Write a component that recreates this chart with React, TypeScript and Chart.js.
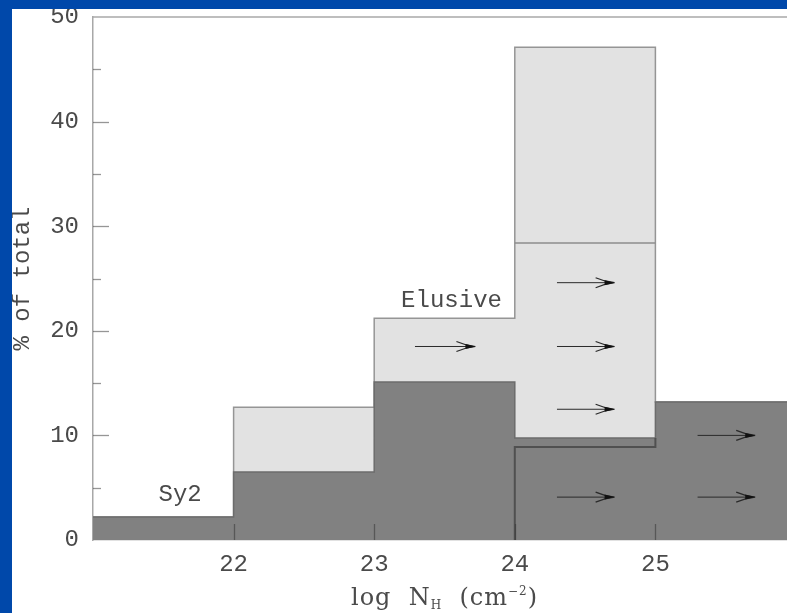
import React, { useEffect, useRef } from "react";
import { Chart, registerables } from "chart.js";

Chart.register(...registerables);

// ---- data ----
const binEdges = [21, 22, 23, 24, 25, 26];
const sy2Pct = [2.2, 6.5, 15.1, 9.75, 13.2]; // dark histogram (Sy2)
const totalPct = [2.2, 12.7, 21.2, 47.1, 13.2]; // top of light histogram (Sy2 + Elusive)
const limitBin = [24, 25];
const sy2LimitPct = 8.9; // inner outlined box in 24-25 bin
const elusiveLimitPct = 28.4; // inner line in 24-25 bin of Elusive
const xTickValues = [22, 23, 24, 25];
const yMinorTicks = [5, 15, 25, 35, 45];
const arrowXStart = [23.29, 24.3, 24.3, 24.3, 24.3, 25.3, 25.3];
const arrowXEnd = [23.72, 24.71, 24.71, 24.71, 24.71, 25.71, 25.71];
const arrowY = [18.5, 24.6, 18.5, 12.5, 4.1, 10.0, 4.1];
const textLabels = ["Sy2", "Elusive"];
const textLabelX = [21.62, 23.55];
const textLabelY = [4.3, 22.9];

const MONO = '"Liberation Mono", monospace';
const SERIF = '"DejaVu Serif", serif';
const TEXT = "#4a4a4a";

function stepPoints(vals: number[]) {
  return binEdges.map((x, i) => ({ x, y: vals[Math.min(i, vals.length - 1)] }));
}

const overlay = {
  id: "overlay",
  afterDatasetsDraw(chart: any) {
    const { ctx, chartArea, scales } = chart;
    const x = scales.x;
    const y = scales.y;
    ctx.save();
    // top frame
    ctx.strokeStyle = "#a8a8a8";
    ctx.lineWidth = 1.5;
    ctx.beginPath();
    ctx.moveTo(chartArea.left, chartArea.top);
    ctx.lineTo(chartArea.right, chartArea.top);
    ctx.stroke();

    // inward ticks
    ctx.strokeStyle = "rgba(45,45,45,0.5)";
    ctx.lineWidth = 1.3;
    y.ticks.forEach((t: any) => {
      if (t.value <= y.min || t.value >= y.max) return;
      const py = Math.round(y.getPixelForValue(t.value)) + 0.5;
      ctx.beginPath();
      ctx.moveTo(chartArea.left, py);
      ctx.lineTo(chartArea.left + 16, py);
      ctx.stroke();
    });
    yMinorTicks.forEach((v) => {
      const py = Math.round(y.getPixelForValue(v)) + 0.5;
      ctx.beginPath();
      ctx.moveTo(chartArea.left, py);
      ctx.lineTo(chartArea.left + 8, py);
      ctx.stroke();
    });
    xTickValues.forEach((v) => {
      const px = Math.round(x.getPixelForValue(v)) + 0.5;
      ctx.beginPath();
      ctx.moveTo(px, chartArea.bottom);
      ctx.lineTo(px, chartArea.bottom - 16);
      ctx.stroke();
    });

    // arrows
    ctx.strokeStyle = "#2a2a2a";
    ctx.fillStyle = "#111111";
    arrowY.forEach((v, i) => {
      const py = y.getPixelForValue(v);
      const x1 = x.getPixelForValue(arrowXStart[i]);
      const x2 = x.getPixelForValue(arrowXEnd[i]);
      ctx.lineWidth = 1;
      ctx.beginPath();
      ctx.moveTo(x1, py);
      ctx.lineTo(x2 - 4, py);
      ctx.stroke();
      ctx.lineWidth = 1.2;
      ctx.beginPath();
      ctx.moveTo(x2, py);
      ctx.quadraticCurveTo(x2 - 10, py - 1, x2 - 19, py - 5);
      ctx.moveTo(x2, py);
      ctx.quadraticCurveTo(x2 - 10, py + 1, x2 - 19, py + 5);
      ctx.stroke();
      ctx.beginPath();
      ctx.moveTo(x2, py);
      ctx.lineTo(x2 - 10, py - 2.5);
      ctx.lineTo(x2 - 10, py + 2.5);
      ctx.closePath();
      ctx.fill();
    });

    // text labels
    ctx.fillStyle = TEXT;
    ctx.font = `24px ${MONO}`;
    ctx.textAlign = "center";
    ctx.textBaseline = "middle";
    textLabels.forEach((t, i) => {
      ctx.fillText(t, x.getPixelForValue(textLabelX[i]), y.getPixelForValue(textLabelY[i]));
    });

    // y title
    ctx.save();
    ctx.translate(17, (chartArea.top + chartArea.bottom) / 2);
    ctx.rotate(-Math.PI / 2);
    ctx.font = `24px ${MONO}`;
    ctx.textAlign = "center";
    ctx.textBaseline = "alphabetic";
    ctx.fillText("% of total", 0, 0);
    ctx.restore();

    // x title: log N_H (cm^-2)
    const big = `24px ${SERIF}`;
    const small = `12px ${SERIF}`;
    const parts: [string, string, number][] = [
      ["log  N", big, 0],
      ["H", small, 4],
      ["  (cm", big, 0],
      ["\u22122", small, -10],
      [")", big, 0],
    ];
    ctx.textAlign = "left";
    ctx.textBaseline = "alphabetic";
    (ctx as any).letterSpacing = "1px";
    let total = 0;
    parts.forEach(([s, f]) => {
      ctx.font = f;
      total += ctx.measureText(s).width;
    });
    let cx = (chartArea.left + x.getPixelForValue(26)) / 2 - total / 2;
    const base = chart.height - 8;
    parts.forEach(([s, f, dy]) => {
      ctx.font = f;
      ctx.fillText(s, cx, base + dy);
      cx += ctx.measureText(s).width;
    });
    ctx.restore();
  },
};

export default function App() {
  const ref = useRef<HTMLCanvasElement>(null);
  useEffect(() => {
    if (!ref.current) return;
    const chart = new Chart(ref.current, {
      type: "line",
      data: {
        datasets: [
          {
            label: "Sy2 limit",
            data: [
              { x: limitBin[0], y: 0 },
              { x: limitBin[0], y: sy2LimitPct },
              { x: limitBin[1], y: sy2LimitPct },
              { x: limitBin[1], y: sy2Pct[3] },
            ],
            borderColor: "#505050",
            borderWidth: 2,
            pointRadius: 0,
            fill: false,
            order: 0,
          } as any,
          {
            label: "Elusive limit",
            data: [
              { x: limitBin[0], y: elusiveLimitPct },
              { x: limitBin[1], y: elusiveLimitPct },
            ],
            borderColor: "#8c8c8c",
            borderWidth: 1.5,
            pointRadius: 0,
            fill: false,
            order: 0,
          },
          {
            label: "Sy2",
            data: stepPoints(sy2Pct),
            stepped: true,
            borderColor: "#6c6c6c",
            backgroundColor: "#818181",
            borderWidth: 1.5,
            pointRadius: 0,
            fill: "origin",
            order: 1,
          },
          {
            label: "Elusive",
            data: stepPoints(totalPct),
            stepped: true,
            borderColor: "#959595",
            backgroundColor: "#e2e2e2",
            borderWidth: 1.5,
            pointRadius: 0,
            fill: "origin",
            order: 2,
          },
        ],
      },
      options: {
        animation: false,
        responsive: false,
        layout: { padding: { top: 8, right: 0, left: 0, bottom: 0 } },
        plugins: { legend: { display: false }, tooltip: { enabled: false } },
        scales: {
          x: {
            type: "linear",
            min: 21,
            max: 26,
            grid: { display: false, drawTicks: false },
            border: { display: true, color: "#c4c4c4", width: 1.5 },
            ticks: {
              stepSize: 1,
              padding: 10,
              color: TEXT,
              font: { family: MONO, size: 24 },
              maxRotation: 0,
              callback: (v: any) => (xTickValues.includes(Number(v)) ? String(v) : ""),
            },
            afterFit: (s: any) => {
              s.height = 73;
              s.paddingLeft = 0;
              s.paddingRight = 0;
            },
          },
          y: {
            min: 0,
            max: 50,
            grid: { display: false, drawTicks: false },
            border: { display: true, color: "#a8a8a8", width: 1.5 },
            ticks: {
              stepSize: 10,
              padding: 14,
              color: TEXT,
              font: { family: MONO, size: 24 },
            },
            afterFit: (s: any) => {
              s.width = 81;
              s.paddingTop = 0;
              s.paddingBottom = 0;
            },
          },
        },
      },
      plugins: [overlay],
    });
    return () => chart.destroy();
  }, []);

  return (
    <div
      style={{
        position: "fixed",
        left: 0,
        top: 0,
        width: 787,
        height: 613,
        background: "#0048aa",
        overflow: "hidden",
      }}
    >
      <div
        style={{
          position: "absolute",
          left: 12,
          top: 9,
          width: 784,
          height: 604,
          background: "#ffffff",
        }}
      >
        <canvas ref={ref} width={784} height={604} style={{ display: "block" }} />
      </div>
    </div>
  );
}
